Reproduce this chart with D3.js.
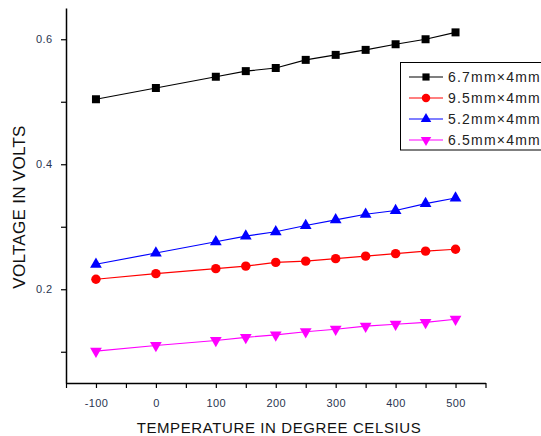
<!DOCTYPE html>
<html><head><meta charset="utf-8">
<script src="https://cdn.jsdelivr.net/npm/d3@7"></script>
<style>body{margin:0;background:#fff}svg{display:block}</style>
</head><body>
<svg id="c" width="541" height="436"></svg>
<script>
const temps = [-100, 0, 100, 150, 200, 250, 300, 350, 400, 450, 500];
const s67 = [0.504, 0.522, 0.540, 0.549, 0.554, 0.567, 0.575, 0.583, 0.592, 0.600, 0.611];
const s95 = [0.216, 0.225, 0.233, 0.237, 0.243, 0.245, 0.249, 0.253, 0.257, 0.261, 0.264];
const s52 = [0.240, 0.258, 0.276, 0.285, 0.292, 0.302, 0.311, 0.320, 0.326, 0.337, 0.346];
const s65 = [0.101, 0.110, 0.118, 0.123, 0.127, 0.132, 0.136, 0.141, 0.144, 0.147, 0.152];
const seriesNames = ["6.7mm×4mm", "9.5mm×4mm", "5.2mm×4mm", "6.5mm×4mm"];
const xTicks = [-150, -100, -50, 0, 50, 100, 150, 200, 250, 300, 350, 400, 450, 500, 550];
const xLabels = [-100, 0, 100, 200, 300, 400, 500];
const yTicks = [0.1, 0.2, 0.3, 0.4, 0.5, 0.6];
const yLabels = [0.2, 0.4, 0.6];

const series = [
  {name: seriesNames[0], values: s67, color: "#000000", sym: d3.symbolSquare, size: 64, rot: 0},
  {name: seriesNames[1], values: s95, color: "#ff0000", sym: d3.symbolCircle, size: 70, rot: 0},
  {name: seriesNames[2], values: s52, color: "#0000ff", sym: d3.symbolTriangle, size: 60, rot: 0},
  {name: seriesNames[3], values: s65, color: "#ff00ff", sym: d3.symbolTriangle, size: 60, rot: 180}
];

const svg = d3.select("#c");
const x = d3.scaleLinear().domain([-150, 550]).range([66, 485.5]);
const y = d3.scaleLinear().domain([0.05, 0.65]).range([383, 8]);

const font = "'Liberation Sans', Arial, sans-serif";

// axes
const xAxis = d3.axisBottom(x).tickValues(xTicks).tickSize(5).tickSizeOuter(0)
  .tickFormat(d => xLabels.includes(d) ? String(d) : "");
const gx = svg.append("g").attr("transform", `translate(0,${y(0.05)})`).call(xAxis);
const yAxis = d3.axisLeft(y).tickValues(yTicks).tickSize(5).tickSizeOuter(0)
  .tickFormat(d => yLabels.includes(+d.toFixed(2)) ? d.toFixed(1) : "");
const gy = svg.append("g").attr("transform", `translate(${x(-150)},0)`).call(yAxis);
[gx, gy].forEach(g => {
  g.select(".domain").attr("stroke", "#000").attr("stroke-width", 1.5);
  g.selectAll(".tick line").attr("stroke", "#000").attr("stroke-width", 1.2);
  g.selectAll(".tick text").attr("fill", "#2a3550").style("font-family", font)
    .style("font-size", "11px").style("letter-spacing", "0.4px");
});
gx.selectAll(".tick text").attr("y", 16).attr("dy", "0.71em");
gy.selectAll(".tick text").attr("dx", "-0.5em");

// lines and markers
const line = d3.line().x((d, i) => x(temps[i])).y(d => y(d));
series.forEach(s => {
  svg.append("path").datum(s.values).attr("d", line)
    .attr("fill", "none").attr("stroke", s.color).attr("stroke-width", 1.2);
  svg.append("g").selectAll("path").data(s.values).join("path")
    .attr("d", d3.symbol().type(s.sym).size(s.size))
    .attr("transform", (d, i) => `translate(${x(temps[i])},${y(d)}) rotate(${s.rot})`)
    .attr("fill", s.color);
});

// axis titles
svg.append("text").attr("x", 279).attr("y", 433).attr("text-anchor", "middle")
  .style("font-family", font).style("font-size", "15px").style("letter-spacing", "0.6px")
  .attr("fill", "#111")
  .text("TEMPERATURE IN DEGREE CELSIUS");
svg.append("text").attr("transform", "translate(25,207) rotate(-90)").attr("text-anchor", "middle")
  .style("font-family", font).style("font-size", "17px").style("letter-spacing", "0.3px")
  .attr("fill", "#111")
  .text("VOLTAGE IN VOLTS");

// legend
const lg = svg.append("g");
lg.append("rect").attr("x", 400.5).attr("y", 62.5).attr("width", 150).attr("height", 87.5)
  .attr("fill", "#fff").attr("stroke", "#000").attr("stroke-width", 1);
series.forEach((s, i) => {
  const yy = 77 + i * 21;
  lg.append("line").attr("x1", 409).attr("x2", 443).attr("y1", yy).attr("y2", yy)
    .attr("stroke", s.color).attr("stroke-width", 1.2);
  lg.append("path").attr("d", d3.symbol().type(s.sym).size(s.size * 0.8))
    .attr("transform", `translate(426,${yy}) rotate(${s.rot})`).attr("fill", s.color);
  lg.append("text").attr("x", 448).attr("y", yy + 5)
    .style("font-family", font).style("font-size", "14px").style("letter-spacing", "1.2px")
    .attr("fill", "#222")
    .text(s.name);
});
</script>
</body></html>
